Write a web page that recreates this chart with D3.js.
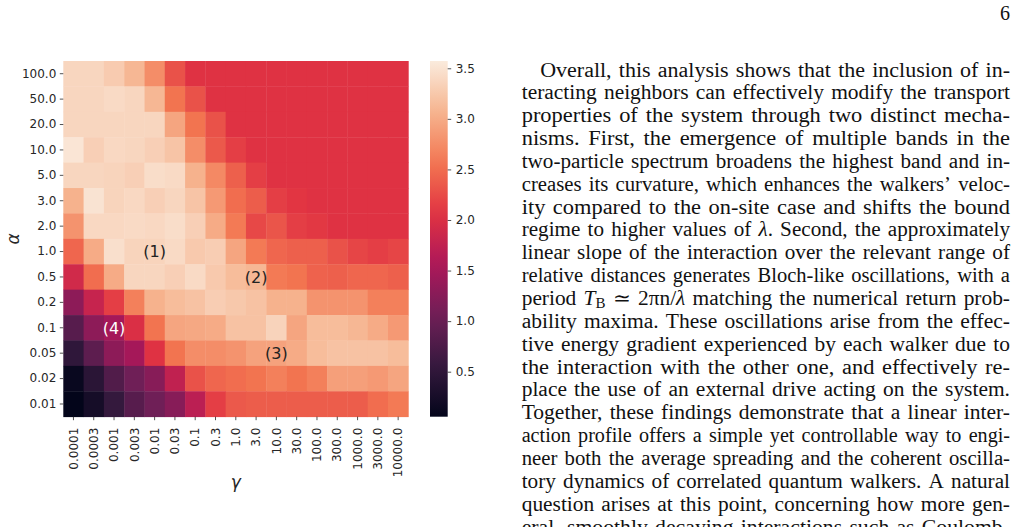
<!DOCTYPE html>
<html><head><meta charset="utf-8">
<script src="https://cdn.jsdelivr.net/npm/d3@7"></script>
<style>body{margin:0;background:#fff;} svg{display:block}</style>
</head><body>
<svg id="c" width="1018" height="527"></svg>
<script>
// ---------- data ----------
const gammaLabels = ["0.0001","0.0003","0.001","0.003","0.01","0.03","0.1","0.3","1.0","3.0","10.0","30.0","100.0","300.0","1000.0","3000.0","10000.0"];
const alphaLabels = ["100.0","50.0","20.0","10.0","5.0","3.0","2.0","1.0","0.5","0.2","0.1","0.05","0.02","0.01"];
const row_100  = [3.38,3.38,3.28,3.10,2.75,2.30,2.05,2.05,2.05,2.05,2.05,2.05,2.05,2.05,2.05,2.05,2.05];
const row_50   = [3.38,3.38,3.42,3.38,3.10,2.55,2.30,2.05,2.05,2.05,2.05,2.05,2.05,2.05,2.05,2.05,2.05];
const row_20   = [3.38,3.38,3.38,3.38,3.38,2.95,2.55,2.30,2.05,2.05,2.05,2.05,2.05,2.05,2.05,2.05,2.05];
const row_10   = [3.52,3.32,3.40,3.38,3.32,3.22,2.75,2.35,2.15,2.05,2.05,2.05,2.05,2.05,2.05,2.05,2.05];
const row_5    = [3.38,3.38,3.36,3.32,3.44,3.42,3.05,2.72,2.40,2.15,2.05,2.05,2.05,2.05,2.05,2.05,2.05];
const row_3    = [3.05,3.50,3.36,3.40,3.32,3.38,3.22,2.85,2.50,2.38,2.15,2.08,2.05,2.05,2.05,2.05,2.05];
const row_2    = [2.80,3.40,3.40,3.42,3.40,3.44,3.32,3.00,2.60,2.22,2.32,2.15,2.10,2.05,2.05,2.05,2.05];
const row_1    = [2.45,3.00,3.46,3.36,3.36,3.42,3.26,3.30,2.95,2.60,2.45,2.40,2.40,2.30,2.20,2.15,2.20];
const row_05   = [1.90,2.50,3.00,3.38,3.38,3.32,3.42,3.26,3.15,3.10,2.60,2.55,2.42,2.40,2.45,2.45,2.40];
const row_02   = [1.30,1.80,2.15,2.65,3.05,3.15,3.20,3.30,3.25,3.20,3.05,3.05,2.80,2.80,2.80,2.65,2.65];
const row_01   = [0.85,1.30,1.50,2.00,2.55,2.95,2.97,3.00,3.20,3.20,3.35,2.95,3.15,3.15,3.10,3.00,2.85];
const row_005  = [0.50,0.90,1.30,1.50,2.05,2.55,2.75,2.75,2.80,2.92,2.92,3.00,3.15,3.20,3.20,3.20,3.15];
const row_002  = [0.12,0.45,0.80,1.05,1.25,1.75,2.30,2.45,2.50,2.55,2.65,2.55,2.65,2.90,2.90,2.85,2.95];
const row_001  = [0.06,0.25,0.55,0.85,1.05,1.25,1.70,2.15,2.35,2.38,2.38,2.38,2.38,2.38,2.38,2.50,2.60];
const values = [row_100,row_50,row_20,row_10,row_5,row_3,row_2,row_1,row_05,row_02,row_01,row_005,row_002,row_001];
const colorTicks = [0.5,1.0,1.5,2.0,2.5,3.0,3.5];
const colorDomain = [0.055, 3.572];
const annotations = [
  {label:"(1)", gamma:"0.01",  alpha:"1.0",  color:"#222"},
  {label:"(2)", gamma:"3.0",   alpha:"0.5",  color:"#222"},
  {label:"(3)", gamma:"10.0",  alpha:"0.05", color:"#222"},
  {label:"(4)", gamma:"0.001", alpha:"0.1",  color:"#fff"}
];
const rocketStops = ["#03051a","#35193e","#701f57","#ad1759","#e13342","#f37651","#f6b48f","#faebdd"];

const paragraph = [
  ["Overall, this analysis shows that the inclusion of in-"],
  ["teracting neighbors can effectively modify the transport"],
  ["properties of the system through two distinct mecha-"],
  ["nisms.  First, the emergence of multiple bands in the"],
  ["two-particle spectrum broadens the highest band and in-"],
  ["creases its curvature, which enhances the walkers\u2019 veloc-"],
  ["ity compared to the on-site case and shifts the bound"],
  ["regime to higher values of ", {t:"\u03bb", i:true}, ". Second, the approximately"],
  ["linear slope of the interaction over the relevant range of"],
  ["relative distances generates Bloch-like oscillations, with a"],
  ["period ", {t:"T", i:true}, {t:"B", sub:true}, " \u2243 2\u03c0n/", {t:"\u03bb", i:true}, " matching the numerical return prob-"],
  ["ability maxima.  These oscillations arise from the effec-"],
  ["tive energy gradient experienced by each walker due to"],
  ["the interaction with the other one, and effectively re-"],
  ["place the use of an external drive acting on the system."],
  ["Together, these findings demonstrate that a linear inter-"],
  ["action profile offers a simple yet controllable way to engi-"],
  ["neer both the average spreading and the coherent oscilla-"],
  ["tory dynamics of correlated quantum walkers. A natural"],
  ["question arises at this point, concerning how more gen-"],
  ["eral, smoothly decaying interactions such as Coulomb-"]
];

// ---------- chart ----------
const svg = d3.select("#c");
const X0 = 63.3, X1 = 408.3, Y0 = 61, Y1 = 416.7;
const x = d3.scaleBand().domain(gammaLabels).range([X0, X1]).padding(0);
const y = d3.scaleBand().domain(alphaLabels).range([Y0, Y1]).padding(0);
const color = d3.scaleSequential(d3.piecewise(d3.interpolateRgb, rocketStops)).domain(colorDomain);

const cells = [];
values.forEach((row, i) => row.forEach((v, j) => cells.push({a: alphaLabels[i], g: gammaLabels[j], v})));
svg.append("g").selectAll("rect").data(cells).join("rect")
  .attr("x", d => x(d.g)).attr("y", d => y(d.a))
  .attr("width", x.bandwidth() + 0.4).attr("height", y.bandwidth() + 0.4)
  .attr("fill", d => color(d.v));

const tickFont = "'DejaVu Sans', sans-serif";
const tickColor = "#262626";

const yAxis = svg.append("g").attr("transform", `translate(${X0},0)`)
  .call(d3.axisLeft(y).tickSize(3.5).tickPadding(3.5));
yAxis.select(".domain").remove();
yAxis.selectAll("text").attr("font-family", tickFont).attr("font-size", 12).attr("fill", tickColor);
yAxis.selectAll("line").attr("stroke", tickColor).attr("stroke-width", 0.8);

const xAxis = svg.append("g").attr("transform", `translate(0,${Y1})`)
  .call(d3.axisBottom(x).tickSize(3.5).tickPadding(3.5));
xAxis.select(".domain").remove();
xAxis.selectAll("line").attr("stroke", tickColor).attr("stroke-width", 0.8);
xAxis.selectAll("text")
  .attr("font-family", tickFont).attr("font-size", 12).attr("fill", tickColor)
  .attr("text-anchor", "end").attr("x", 0).attr("y", 0).attr("dy", "0.35em")
  .attr("transform", "translate(0,11) rotate(-90)");

svg.append("text").attr("x", (X0 + X1) / 2).attr("y", 488)
  .attr("text-anchor", "middle").attr("font-family", tickFont).attr("font-style", "italic")
  .attr("font-size", 17).attr("fill", tickColor).text("\u03b3");
svg.append("text").attr("transform", `translate(19,${(Y0 + Y1) / 2}) rotate(-90)`)
  .attr("text-anchor", "middle").attr("font-family", tickFont).attr("font-style", "italic")
  .attr("font-size", 17).attr("fill", tickColor).text("\u03b1");

svg.append("g").selectAll("text").data(annotations).join("text")
  .attr("x", d => x(d.gamma) + x.bandwidth() / 2)
  .attr("y", d => y(d.alpha) + y.bandwidth() / 2)
  .attr("dy", "0.36em").attr("text-anchor", "middle")
  .attr("font-family", tickFont).attr("font-size", 16).attr("fill", d => d.color)
  .text(d => d.label);

// colorbar
const CB0 = 430, CB1 = 447.7;
const cy = d3.scaleLinear().domain(colorDomain).range([Y1, Y0]);
const defs = svg.append("defs");
const grad = defs.append("linearGradient").attr("id", "cbg").attr("x1", 0).attr("y1", 1).attr("x2", 0).attr("y2", 0);
d3.range(0, 1.0001, 0.05).forEach(t => grad.append("stop").attr("offset", t)
  .attr("stop-color", color(colorDomain[0] + t * (colorDomain[1] - colorDomain[0]))));
svg.append("rect").attr("x", CB0).attr("y", Y0).attr("width", CB1 - CB0).attr("height", Y1 - Y0).attr("fill", "url(#cbg)");
const cAxis = svg.append("g").attr("transform", `translate(${CB1},0)`)
  .call(d3.axisRight(cy).tickValues(colorTicks).tickFormat(d3.format(".1f")).tickSize(3.5).tickPadding(4.5));
cAxis.select(".domain").remove();
cAxis.selectAll("text").attr("font-family", tickFont).attr("font-size", 12).attr("fill", tickColor);
cAxis.selectAll("line").attr("stroke", tickColor).attr("stroke-width", 0.8);

// ---------- paragraph ----------
const serif = "'Liberation Serif', 'Times New Roman', serif";
const FS = 20, LEFT = 521.7, RIGHT = 1010, BASE0 = 76.5, LEAD = 22.85, INDENT = 18.5;
const NAT_GAP = 0.36 * FS, MAX_STRETCH = 1.12;
const tg = svg.append("g").attr("font-family", serif).attr("font-size", FS).attr("fill", "#111");

function tokens(line) {
  const words = [[]];
  line.forEach(seg => {
    const s = typeof seg === "string" ? {t: seg} : seg;
    const pieces = s.t.split(/( +)/);
    pieces.forEach(p => {
      if (p === "") return;
      if (/^ +$/.test(p)) { words.push([]); return; }
      words[words.length - 1].push({t: p, i: s.i, sub: s.sub});
    });
  });
  return words.filter(w => w.length);
}
paragraph.forEach((line, li) => {
  const words = tokens(line);
  const by = BASE0 + li * LEAD;
  const x0 = LEFT + (li === 0 ? INDENT : 0);
  const nodes = words.map(w => {
    const t = tg.append("text").attr("y", by);
    w.forEach(p => {
      const ts = t.append("tspan").text(p.t);
      if (p.i) ts.attr("font-style", "italic");
      if (p.sub) ts.attr("font-size", FS * 0.7).attr("dy", 3);
    });
    return t;
  });
  const widths = nodes.map(n => n.node().getComputedTextLength());
  const total = d3.sum(widths);
  const nGaps = words.length - 1;
  const avail = RIGHT - x0;
  const s = Math.max(1, Math.min(MAX_STRETCH, (avail - nGaps * NAT_GAP) / total));
  const gap = (avail - s * total) / nGaps;
  let cx = x0;
  nodes.forEach((n, k) => {
    const w = widths[k] * s;
    n.attr("x", cx).attr("textLength", w).attr("lengthAdjust", "spacingAndGlyphs");
    cx += w + gap;
  });
});

svg.append("text").attr("x", 1010).attr("y", 20).attr("text-anchor", "end")
  .attr("font-family", serif).attr("font-size", FS).attr("fill", "#111").text("6");
</script>
</body></html>
